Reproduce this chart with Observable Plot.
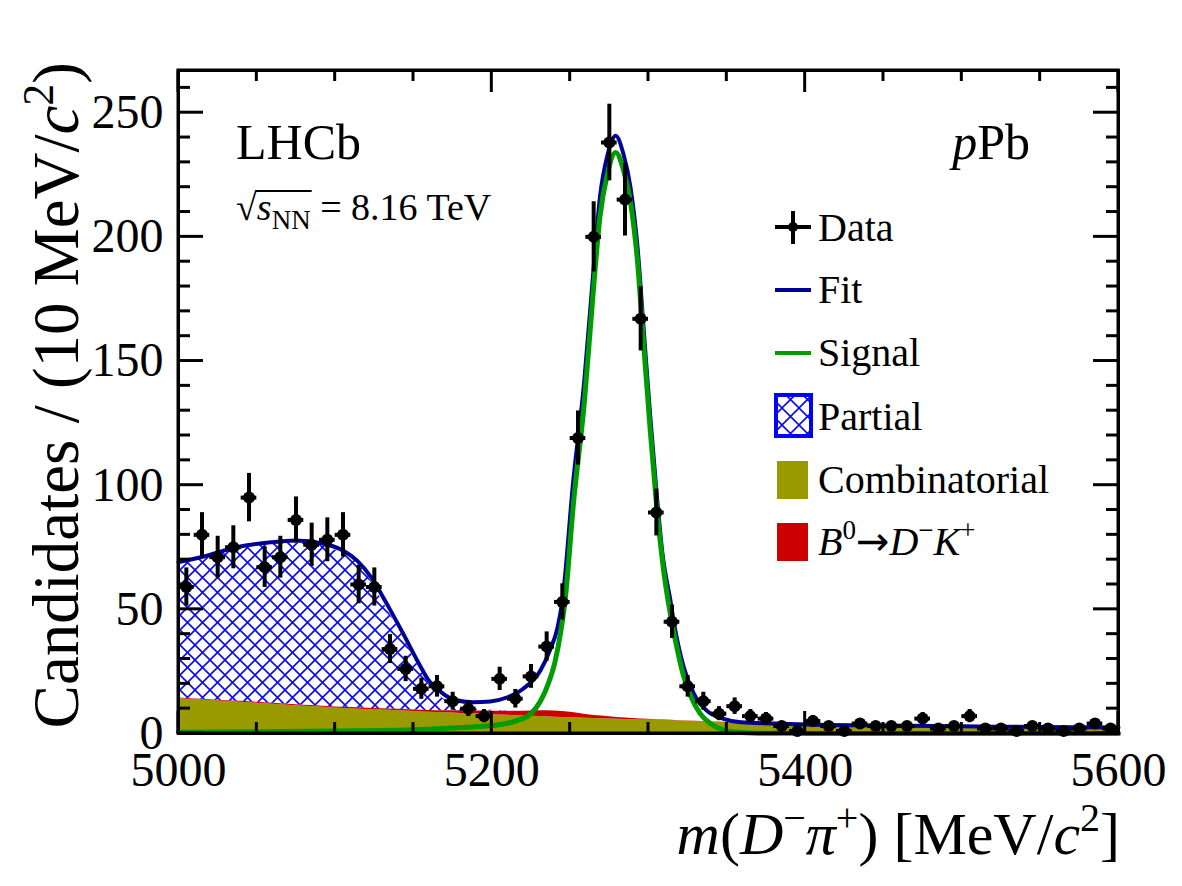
<!DOCTYPE html>
<html><head><meta charset="utf-8">
<script src="https://cdn.jsdelivr.net/npm/d3@7"></script>
<script src="https://cdn.jsdelivr.net/npm/@observablehq/plot@0.6"></script>
<style>
html,body{margin:0;padding:0;background:#fff;}
#chart{position:relative;width:1182px;height:886px;overflow:hidden;}
</style></head><body><div id="chart"></div>
<script>
// ---------- data ----------
const binCenters = [5005,5015,5025,5035,5045,5055,5065,5075,5085,5095,5105,5115,5125,5135,5145,5155,5165,5175,5185,5195,
  5205,5215,5225,5235,5245,5255,5265,5275,5285,5295,5305,5315,5325,5335,5345,5355,5365,5375,5385,5395,
  5405,5415,5425,5435,5445,5455,5465,5475,5485,5495,5505,5515,5525,5535,5545,5555,5565,5575,5585,5595];
const counts = [59,80,71,75,95,67,71,86,76,78,80,60,59,34,26,18,19,13,10,7,
  22,14,23,35,53,119,200,238,215,167,89,45,19,13,8,11,7,6,3,1,
  5,3,1,4,3,3,3,6,2,3,7,2,2,1,3,2,1,2,4,2];

const fitX = [5000,5016,5037,5059,5075,5091,5105,5114,5123,5133,5144,5154,5159,5169,5176,5188,5199,5210,5220,5231,5237,5242,5245,
  5252,5259,5265,5269,5274,5279,5284,5288.5,5293,5297,5301,5304.5,5309,5314,5316,5322.5,5329,5337,5348,5359,5380,5400,5450,5500,5550,5600];
const fitY = [69.0,71.3,75.0,77.0,77.7,76.6,73.7,69.6,62.9,52.2,39.5,27.5,22.0,16.0,13.6,12.6,12.9,14.6,18.0,25.4,33.4,42.8,53.5,
  101.9,142,187.7,216,233.4,240.7,233.4,220,195.8,162.2,128.7,101.9,72,53.5,45.5,26.7,16,9.3,5.9,4.5,4.0,3.6,3.2,2.9,2.6,2.4];

const signalX = [5000,5050,5100,5150,5175,5200,5215,5225,5231,5236,5240,5244,5247,5252,5259,5265,5269,5274,5279,5284,5288.5,5293,5297,
  5301,5305,5310,5314,5318,5322,5327,5333,5340,5347,5355,5370,5400,5500,5600];
const signalY = [0.5,0.7,1.0,1.5,2.2,3.2,5.0,8.0,13,20,28,41,55,92,133,180,208,226,234,227,214,190,156,
  123,93,64,48,35,24,15,8,3.8,1.6,0.6,0.15,0.05,0,0];

const bgX = [5000,5010,5020,5030,5040,5050,5060,5070,5080,5090,5100,5110,5120,5130,5140,5150,5160,5170,5180,5190,
  5200,5210,5220,5230,5240,5250,5260,5270,5280,5290,5300,5310,5320,5330,5340,5350,5400,5450,5500,5550,5600];
const combinatorialY = [14.0,13.6,13.3,12.9,12.6,12.2,11.8,11.4,11.0,10.7,10.3,10.0,9.7,9.5,9.2,8.9,8.6,8.35,8.1,7.85,
  7.6,7.3,7.0,6.8,6.5,6.3,6.1,5.9,5.7,5.55,5.4,5.2,5.0,4.8,4.65,4.5,3.6,3.1,2.8,2.5,2.3];
const bdkY = [0.3,0.3,0.3,0.3,0.35,0.35,0.35,0.4,0.4,0.4,0.4,0.45,0.5,0.5,0.55,0.6,0.65,0.8,1.0,1.2,
  1.4,1.7,2.0,2.4,2.6,2.3,1.6,1.1,0.7,0.45,0.3,0.2,0.15,0.1,0.05,0.05,0,0,0,0,0];
const partialY = [54.2,56.0,57.8,59.8,61.6,63.0,64.1,64.9,65.1,64.7,63.2,60.5,54.0,43.5,33.0,21.3,10.5,4.4,1.6,0.7,
  0.4,0.1,0,0,0,0,0,0,0,0,0,0,0,0,0,0,0,0,0,0,0];

const xTicksMajor = [5000,5200,5400,5600];
const xTicksMinor = [5050,5100,5150,5250,5300,5350,5450,5500,5550];
const yTicksMajor = [0,50,100,150,200,250];
const yTicksMinor = [10,20,30,40,60,70,80,90,110,120,130,140,160,170,180,190,210,220,230,240,260];

const legendLabels = ["Data","Fit","Signal","Partial","Combinatorial","B0→D−K+"];

// ---------- colours ----------
const FIT = "#000099", SIG = "#009c00", OLIVE = "#999900", RED = "#cc0000", HATCH = "#0a0aee";
const FONT = "'Liberation Serif','Times New Roman',serif";

// ---------- tables ----------
const dataRows = binCenters.map((x, i) => ({x, n: counts[i]}));
const fitRows = fitX.map((x, i) => ({x, y: fitY[i]}));
const sigRows = signalX.map((x, i) => ({x, y: signalY[i]}));
const bgRows = [
  ...bgX.map((x, i) => ({x, v: combinatorialY[i], comp: "comb", fill: OLIVE})),
  ...bgX.map((x, i) => ({x, v: bdkY[i], comp: "bdk", fill: RED})),
  ...bgX.map((x, i) => ({x, v: partialY[i], comp: "partial", fill: "url(#hatch)"}))
];

const chart = Plot.plot({
  width: 1182, height: 886,
  marginLeft: 178, marginRight: 64, marginTop: 70, marginBottom: 153,
  style: {fontFamily: FONT, background: "white", color: "black"},
  x: {domain: [5000, 5600]},
  y: {domain: [0, 267]},
  color: {type: "identity"},
  marks: [
    Plot.areaY(bgRows, {x: "x", y: "v", z: "comp", fill: "fill", curve: "monotone-x"}),
    Plot.line(fitRows, {x: "x", y: "y", stroke: FIT, strokeWidth: 4, curve: "monotone-x"}),
    Plot.line(sigRows, {x: "x", y: "y", stroke: SIG, strokeWidth: 5, curve: "monotone-x"}),
    Plot.ruleX(dataRows, {x: "x", y1: d => d.n - Math.sqrt(d.n), y2: d => d.n + Math.sqrt(d.n), stroke: "black", strokeWidth: 4}),
    Plot.ruleY(dataRows, {y: "n", x1: d => d.x - 5, x2: d => d.x + 5, stroke: "black", strokeWidth: 4}),
    Plot.dot(dataRows, {x: "x", y: "n", r: 6, fill: "black", stroke: "none"}),
    Plot.axisX({ticks: xTicksMajor, tickSize: 0, tickPadding: 18, tickFormat: d => String(d), fontSize: 48, label: null}),
    Plot.axisY({ticks: yTicksMajor, tickSize: 0, tickPadding: 15, tickFormat: d => String(d), fontSize: 48, label: null}),
    Plot.frame({stroke: "black", strokeWidth: 3})
  ]
});
document.getElementById("chart").appendChild(chart);

const svg = d3.select(chart);
svg.attr("font-family", FONT);
// hatch pattern
const defs = svg.insert("defs", ":first-child");
function addHatch(id, size, sw) {
  const p = defs.append("pattern").attr("id", id).attr("patternUnits", "userSpaceOnUse")
    .attr("width", size).attr("height", size);
  let d = "";
  for (const k of [-size, 0, size]) {
    d += `M${-1 + k},${-1} L${size + 1 + k},${size + 1} `;
    d += `M${size + 1 + k},${-1} L${-1 + k},${size + 1} `;
  }
  p.append("path").attr("d", d).attr("stroke", HATCH).attr("stroke-width", sw).attr("fill", "none");
}
addHatch("hatch", 15, 1.6);
addHatch("hatchLeg", 17, 1.6);

const xs = chart.scale("x"), ys = chart.scale("y");
const [L, R] = xs.range, [B, T] = ys.range;
const g = svg.append("g").attr("stroke", "black").attr("stroke-width", 3);
for (const v of xTicksMajor) {
  const px = xs.apply(v);
  g.append("line").attr("x1", px).attr("x2", px).attr("y1", B).attr("y2", B - 22);
  g.append("line").attr("x1", px).attr("x2", px).attr("y1", T).attr("y2", T + 22);
}
for (const v of xTicksMinor) {
  const px = xs.apply(v);
  g.append("line").attr("x1", px).attr("x2", px).attr("y1", B).attr("y2", B - 11);
  g.append("line").attr("x1", px).attr("x2", px).attr("y1", T).attr("y2", T + 11);
}
for (const v of yTicksMajor) {
  const py = ys.apply(v);
  g.append("line").attr("y1", py).attr("y2", py).attr("x1", L).attr("x2", L + 25);
  g.append("line").attr("y1", py).attr("y2", py).attr("x1", R).attr("x2", R - 25);
}
for (const v of yTicksMinor) {
  const py = ys.apply(v);
  g.append("line").attr("y1", py).attr("y2", py).attr("x1", L).attr("x2", L + 12);
  g.append("line").attr("y1", py).attr("y2", py).attr("x1", R).attr("x2", R - 12);
}
svg.append("rect").attr("x", L).attr("y", T).attr("width", R - L).attr("height", B - T)
  .attr("fill", "none").attr("stroke", "black").attr("stroke-width", 3);

// ---------- texts ----------
const txt = svg.append("g").attr("fill", "black").attr("font-family", FONT).attr("text-anchor", "start");
txt.append("text").attr("x", 236).attr("y", 159).attr("font-size", 50).attr("text-anchor", "start").text("LHCb");
const en = txt.append("text").attr("x", 236).attr("y", 220).attr("font-size", 38).attr("text-anchor", "start");
en.append("tspan").text("√");
en.append("tspan").attr("font-style", "italic").text("s");
en.append("tspan").attr("font-size", 27).attr("dy", 9).text("NN");
en.append("tspan").attr("dy", -9).text(" = 8.16 TeV");
{
  const node = en.node();
  const x0 = node.getStartPositionOfChar(1).x, x1 = node.getEndPositionOfChar(3).x;
  txt.append("line").attr("x1", x0 - 1).attr("x2", x1 + 1).attr("y1", 191).attr("y2", 191)
    .attr("stroke", "black").attr("stroke-width", 1.8);
}
const ppb = txt.append("text").attr("x", 1030).attr("y", 159).attr("font-size", 50).attr("text-anchor", "end");
ppb.append("tspan").attr("font-style", "italic").text("p");
ppb.append("tspan").text("Pb");

// axis titles
const yt = txt.append("text").attr("transform", "translate(78,62) rotate(-90)").attr("text-anchor", "end").attr("font-size", 65);
yt.append("tspan").text("Candidates / (10 MeV/");
yt.append("tspan").attr("font-style", "italic").text("c");
yt.append("tspan").attr("font-size", 44).attr("dy", -25).text("2");
yt.append("tspan").attr("dy", 25).text(")");

const xt = txt.append("text").attr("x", 1120).attr("y", 854).attr("text-anchor", "end").attr("font-size", 60);
xt.append("tspan").attr("font-style", "italic").text("m");
xt.append("tspan").text("(");
xt.append("tspan").attr("font-style", "italic").text("D");
xt.append("tspan").attr("font-size", 40).attr("dy", -23).text("−");
xt.append("tspan").attr("font-style", "italic").attr("font-size", 60).attr("dy", 23).text("π");
xt.append("tspan").attr("font-size", 40).attr("dy", -23).text("+");
xt.append("tspan").attr("dy", 23).text(") [MeV/");
xt.append("tspan").attr("font-style", "italic").text("c");
xt.append("tspan").attr("font-size", 40).attr("dy", -23).text("2");
xt.append("tspan").attr("dy", 23).text("]");

// ---------- legend ----------
const lg = svg.append("g").attr("font-family", FONT).attr("font-size", 40).attr("text-anchor", "start");
const tx = 818;
// Data
lg.append("line").attr("x1", 775).attr("x2", 811).attr("y1", 227).attr("y2", 227).attr("stroke", "black").attr("stroke-width", 4);
lg.append("line").attr("x1", 793).attr("x2", 793).attr("y1", 211).attr("y2", 244).attr("stroke", "black").attr("stroke-width", 4);
lg.append("circle").attr("cx", 793).attr("cy", 227).attr("r", 5).attr("fill", "black");
lg.append("text").attr("x", tx).attr("y", 241).text(legendLabels[0]);
// Fit
lg.append("line").attr("x1", 775).attr("x2", 811).attr("y1", 290).attr("y2", 290).attr("stroke", FIT).attr("stroke-width", 4);
lg.append("text").attr("x", tx).attr("y", 303).text(legendLabels[1]);
// Signal
lg.append("line").attr("x1", 775).attr("x2", 811).attr("y1", 353).attr("y2", 353).attr("stroke", SIG).attr("stroke-width", 4);
lg.append("text").attr("x", tx).attr("y", 366).text(legendLabels[2]);
// Partial
lg.append("rect").attr("x", 776).attr("y", 395).attr("width", 35).attr("height", 41)
  .attr("fill", "url(#hatchLeg)").attr("stroke", "#0000ff").attr("stroke-width", 4);
lg.append("text").attr("x", tx).attr("y", 430).text(legendLabels[3]);
// Combinatorial
lg.append("rect").attr("x", 777).attr("y", 461).attr("width", 31).attr("height", 38).attr("fill", OLIVE);
lg.append("text").attr("x", tx).attr("y", 493).text(legendLabels[4]);
// B0 -> D- K+
lg.append("rect").attr("x", 777).attr("y", 523).attr("width", 31).attr("height", 38).attr("fill", RED);
const bt = lg.append("text").attr("x", tx).attr("y", 555);
bt.append("tspan").attr("font-style", "italic").text("B");
bt.append("tspan").attr("font-size", 27).attr("dy", -16).text("0");
bt.append("tspan").attr("dy", 16).attr("font-family", "'DejaVu Sans',sans-serif").attr("font-size", 40).text("→");
bt.append("tspan").attr("font-style", "italic").text("D");
bt.append("tspan").attr("font-size", 27).attr("dy", -16).text("−");
bt.append("tspan").attr("font-style", "italic").attr("dy", 16).text("K");
bt.append("tspan").attr("font-size", 27).attr("dy", -16).text("+");
</script>
</body></html>
